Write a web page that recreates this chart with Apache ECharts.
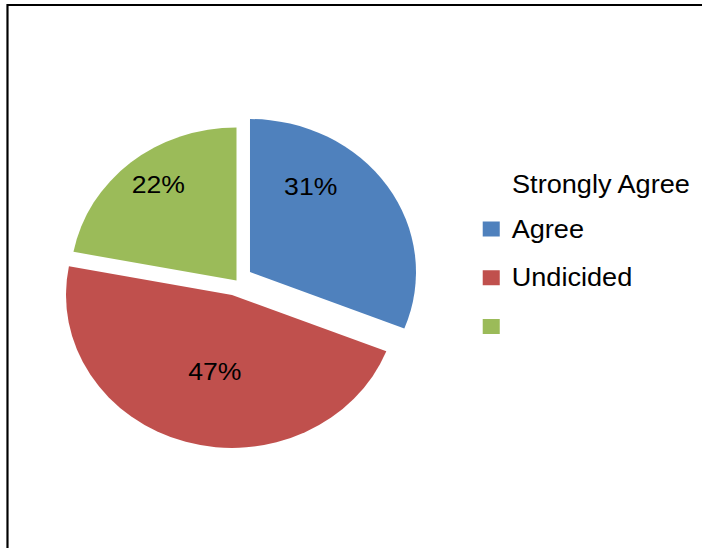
<!DOCTYPE html>
<html>
<head>
<meta charset="utf-8">
<script src="https://cdn.jsdelivr.net/npm/echarts@6/dist/echarts.min.js"></script>
<style>
html, body { margin: 0; padding: 0; background: #ffffff; overflow: hidden; width: 702px; height: 548px; }
#chart { position: absolute; left: 0; top: 0; width: 647px; height: 548px; transform: scaleX(1.085); transform-origin: 0 0; }
</style>
</head>
<body>
<div id="chart"></div>
<script>
// ---- data ----
const categories = ['Agree', 'Undicided', ' '];
const values = [31, 47, 22];
const headerLabel = 'Strongly Agree';

// ---- styling ----
const sliceColors = ['#4F81BD', '#C0504D', '#9BBB59'];
const explodedSlices = ['Agree', 'Undicided'];
const labelNudge = [[-9.8, -41.5], [6.4, 0.3], [-21.5, -35]];
const FONT = 'Arial, "Liberation Sans", Helvetica, sans-serif';

const chart = echarts.init(document.getElementById('chart'), null, { renderer: 'svg' });

const pieData = categories.map((name, i) => ({
  name: name,
  value: values[i],
  selected: explodedSlices.indexOf(name) >= 0,
  itemStyle: { color: sliceColors[i] }
}));

const option = {
  backgroundColor: '#ffffff',
  animation: false,
  title: {
    text: headerLabel,
    left: 471.9,
    top: 171,
    padding: 0,
    textStyle: { fontFamily: FONT, fontSize: 25, fontWeight: 'normal', color: '#000000', lineHeight: 26 }
  },
  legend: {
    orient: 'vertical',
    left: 444.9,
    top: 216,
    padding: 0,
    itemGap: 22.75,
    itemWidth: 15.7,
    itemHeight: 15,
    icon: 'rect',
    selectedMode: false,
    data: categories.slice(),
    textStyle: { fontFamily: FONT, fontSize: 25, color: '#000000', lineHeight: 26, padding: [0, 0, 0, 6] }
  },
  graphic: [{
    type: 'rect',
    silent: true,
    shape: { x: 6.9, y: 5, width: 1200, height: 1200 },
    style: { fill: 'none', stroke: '#000000', lineWidth: 2 }
  }],
  series: [{
    type: 'pie',
    center: [218, 280.5],
    radius: [0, 153],
    startAngle: 90,
    clockwise: true,
    selectedMode: 'multiple',
    selectedOffset: 15,
    silent: true,
    emphasis: { disabled: true, scale: false },
    itemStyle: { borderWidth: 0 },
    label: {
      show: true,
      position: 'inside',
      fontFamily: FONT,
      fontSize: 24.5,
      color: '#000000',
      formatter: p => Math.round(p.percent) + '%'
    },
    labelLine: { show: false },
    labelLayout: function (params) {
      const n = labelNudge[params.dataIndex];
      return { dx: n[0], dy: n[1] };
    },
    data: pieData
  }]
};
chart.setOption(option);
</script>
</body>
</html>
